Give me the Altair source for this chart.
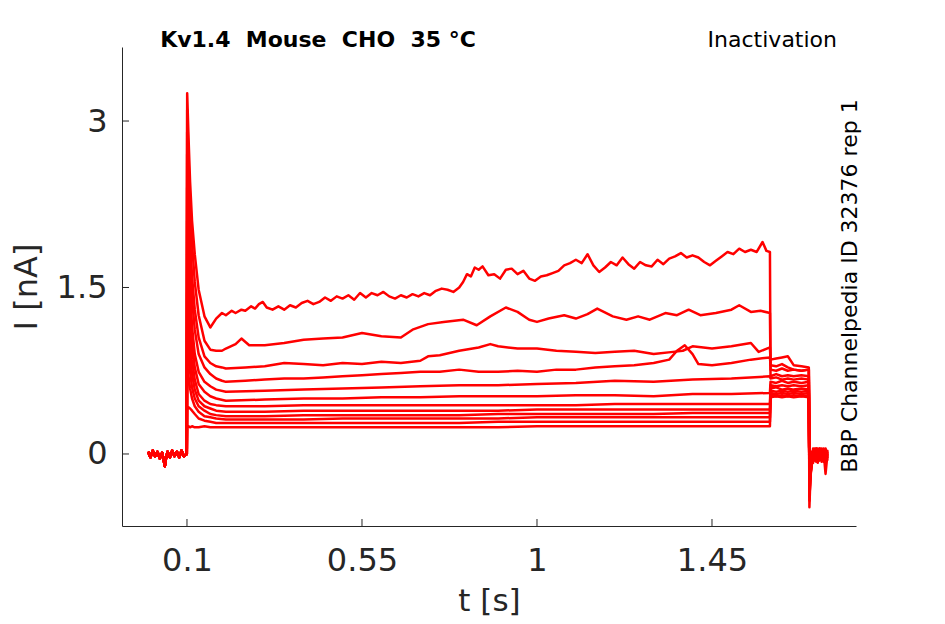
import altair as alt
import pandas as pd

# ---------------- data ----------------
TRACES = list(range(1, 13))

# holding baseline before the step (shared by all sweeps)
BASE_T = [0.0, 0.006, 0.012, 0.018, 0.024, 0.03, 0.036, 0.04, 0.043, 0.046, 0.05,
          0.056, 0.062, 0.068, 0.074, 0.08, 0.086, 0.092, 0.0995]
BASE_I = [0.02, -0.03, 0.03, -0.02, 0.02, -0.04, 0.01, -0.05, -0.11, -0.04, 0.02,
          -0.03, 0.03, -0.02, 0.02, -0.03, 0.03, -0.02, 0.0]

# fast transient after the step at 0.1 s
DECAY_T = [0.1005, 0.104, 0.108, 0.113, 0.12, 0.13, 0.145, 0.16, 0.175]
DECAY_I = {
    1: [3.25, 2.85, 2.45, 2.10, 1.80, 1.48, 1.24, 1.14, 1.22],
    2: [3.10, 2.65, 2.25, 1.90, 1.55, 1.25, 1.02, 0.94, 0.93],
    3: [2.90, 2.40, 1.95, 1.60, 1.30, 1.05, 0.88, 0.82, 0.79],
    4: [2.70, 2.20, 1.75, 1.40, 1.12, 0.90, 0.78, 0.72, 0.68],
    5: [2.40, 1.95, 1.50, 1.15, 0.90, 0.74, 0.65, 0.61, 0.58],
    6: [2.10, 1.70, 1.30, 1.00, 0.78, 0.63, 0.56, 0.52, 0.50],
    7: [1.80, 1.45, 1.10, 0.85, 0.67, 0.54, 0.48, 0.45, 0.44],
    8: [1.45, 1.15, 0.90, 0.72, 0.58, 0.48, 0.43, 0.41, 0.39],
    9: [1.10, 0.92, 0.74, 0.60, 0.50, 0.43, 0.39, 0.36, 0.35],
    10: [0.80, 0.70, 0.59, 0.50, 0.43, 0.38, 0.34, 0.33, 0.32],
    11: [0.40, 0.42, 0.41, 0.39, 0.36, 0.32, 0.30, 0.29, 0.28],
    12: [0.24, 0.25, 0.24, 0.25, 0.24, 0.24, 0.25, 0.24, 0.24],
}

# sustained current during the 1.5 s step (top sweeps read in detail)
T1_T = [0.19, 0.2, 0.215, 0.225, 0.24, 0.25, 0.265, 0.275, 0.285, 0.295, 0.305, 0.32,
        0.335, 0.35, 0.365, 0.38, 0.395, 0.41, 0.425, 0.44, 0.455, 0.47, 0.485, 0.5,
        0.515, 0.53, 0.545, 0.56, 0.575, 0.59, 0.605, 0.62, 0.635, 0.65, 0.665, 0.68,
        0.695, 0.71, 0.725, 0.74, 0.755, 0.77, 0.785, 0.8, 0.81, 0.82, 0.83, 0.84,
        0.85, 0.86, 0.875, 0.89, 0.905, 0.92, 0.935, 0.95, 0.965, 0.98, 0.995, 1.01,
        1.025, 1.04, 1.055, 1.07, 1.085, 1.1, 1.115, 1.13, 1.145, 1.16, 1.175, 1.19,
        1.205, 1.22, 1.235, 1.25, 1.265, 1.28, 1.295, 1.31, 1.325, 1.34, 1.355, 1.37,
        1.385, 1.4, 1.415, 1.43, 1.445, 1.46, 1.475, 1.49, 1.505, 1.52, 1.535, 1.55,
        1.565, 1.58, 1.59, 1.599]
T1_I = [1.27, 1.25, 1.29, 1.27, 1.30, 1.29, 1.33, 1.31, 1.35, 1.37, 1.32, 1.30,
        1.33, 1.30, 1.34, 1.32, 1.36, 1.38, 1.35, 1.37, 1.41, 1.38, 1.42, 1.40,
        1.43, 1.39, 1.45, 1.41, 1.45, 1.43, 1.46, 1.42, 1.40, 1.43, 1.41, 1.44,
        1.42, 1.45, 1.43, 1.47, 1.49, 1.48, 1.46, 1.50, 1.55, 1.62, 1.60, 1.68,
        1.66, 1.69, 1.61, 1.62, 1.58, 1.66, 1.67, 1.62, 1.65, 1.58, 1.56, 1.60,
        1.61, 1.63, 1.65, 1.70, 1.72, 1.75, 1.72, 1.80, 1.70, 1.64, 1.68, 1.73,
        1.70, 1.77, 1.71, 1.67, 1.73, 1.70, 1.69, 1.75, 1.71, 1.76, 1.78, 1.81,
        1.77, 1.79, 1.77, 1.73, 1.70, 1.74, 1.78, 1.82, 1.80, 1.85, 1.82, 1.84,
        1.82, 1.91, 1.83, 1.82]

T2_T = [0.19, 0.2, 0.225, 0.24, 0.26, 0.3, 0.35, 0.4, 0.45, 0.5, 0.55, 0.6, 0.65,
        0.68, 0.72, 0.76, 0.81, 0.845, 0.88, 0.92, 0.95, 0.98, 1.0, 1.03, 1.07, 1.1,
        1.13, 1.155, 1.195, 1.23, 1.26, 1.29, 1.33, 1.36, 1.39, 1.42, 1.46, 1.5,
        1.52, 1.55, 1.575, 1.599]
T2_I = [0.93, 0.95, 0.99, 1.04, 0.98, 0.98, 1.00, 1.03, 1.04, 1.05, 1.09, 1.06, 1.05,
        1.12, 1.17, 1.19, 1.21, 1.16, 1.24, 1.32, 1.28, 1.21, 1.19, 1.22, 1.25, 1.22,
        1.26, 1.31, 1.24, 1.21, 1.24, 1.21, 1.27, 1.25, 1.30, 1.25, 1.27, 1.30,
        1.34, 1.28, 1.29, 1.27]

T3_T = [0.19, 0.2, 0.25, 0.3, 0.35, 0.4, 0.45, 0.5, 0.55, 0.6, 0.65, 0.7, 0.72, 0.75,
        0.8, 0.85, 0.88, 0.9, 0.95, 1.0, 1.05, 1.1, 1.15, 1.2, 1.25, 1.3, 1.35, 1.375,
        1.4, 1.45, 1.5, 1.55, 1.57, 1.599]
T3_I = [0.78, 0.77, 0.78, 0.79, 0.82, 0.81, 0.80, 0.82, 0.81, 0.83, 0.82, 0.84, 0.88, 0.89,
        0.93, 0.96, 0.99, 0.97, 0.95, 0.95, 0.93, 0.92, 0.91, 0.92, 0.93, 0.90, 0.92, 0.93,
        0.97, 0.95, 0.97, 1.00, 0.92, 0.96]

T4_T = [0.19, 0.2, 0.25, 0.3, 0.35, 0.4, 0.45, 0.5, 0.55, 0.6, 0.65, 0.7, 0.75, 0.8,
        0.85, 0.9, 0.95, 1.0, 1.05, 1.1, 1.15, 1.2, 1.25, 1.3, 1.34, 1.36, 1.38, 1.4,
        1.415, 1.45, 1.5, 1.55, 1.599]
T4_I = [0.66, 0.65, 0.66, 0.67, 0.68, 0.68, 0.69, 0.70, 0.71, 0.72, 0.73, 0.74, 0.74, 0.76,
        0.74, 0.74, 0.75, 0.74, 0.76, 0.76, 0.78, 0.79, 0.80, 0.82, 0.85, 0.93, 0.98, 0.90,
        0.81, 0.80, 0.82, 0.85, 0.87]

# lower sweeps on a common time grid
GRID_T = [0.2, 0.3, 0.4, 0.5, 0.6, 0.7, 0.8, 0.9, 1.0, 1.1, 1.2, 1.3, 1.4, 1.5, 1.599]
GRID_I = {
    5: [0.56, 0.57, 0.58, 0.59, 0.60, 0.61, 0.62, 0.62, 0.63, 0.64, 0.66, 0.65, 0.67, 0.68, 0.70],
    6: [0.48, 0.49, 0.50, 0.50, 0.51, 0.51, 0.52, 0.52, 0.52, 0.53, 0.53, 0.52, 0.54, 0.54, 0.55],
    7: [0.43, 0.43, 0.44, 0.44, 0.44, 0.44, 0.44, 0.44, 0.44, 0.44, 0.45, 0.45, 0.45, 0.45, 0.45],
    8: [0.38, 0.38, 0.39, 0.39, 0.39, 0.39, 0.39, 0.39, 0.40, 0.40, 0.40, 0.40, 0.40, 0.40, 0.40],
    9: [0.34, 0.34, 0.35, 0.35, 0.35, 0.35, 0.35, 0.36, 0.36, 0.36, 0.36, 0.36, 0.37, 0.37, 0.37],
    10: [0.31, 0.31, 0.31, 0.32, 0.32, 0.32, 0.32, 0.32, 0.33, 0.33, 0.33, 0.33, 0.33, 0.33, 0.33],
    11: [0.28, 0.28, 0.28, 0.28, 0.28, 0.28, 0.28, 0.29, 0.29, 0.29, 0.29, 0.29, 0.29, 0.29, 0.29],
    12: [0.24, 0.24, 0.24, 0.24, 0.24, 0.24, 0.24, 0.24, 0.25, 0.25, 0.25, 0.25, 0.25, 0.25, 0.25],
}

# test pulse 1.6 - 1.7 s
TAIL_T = [1.6005, 1.615, 1.63, 1.645, 1.66, 1.68, 1.699]
TAIL_I = {
    1: [0.70, 0.72, 0.70, 0.71, 0.70, 0.71, 0.70],
    2: [0.76, 0.75, 0.77, 0.75, 0.76, 0.75, 0.76],
    3: [0.85, 0.86, 0.87, 0.88, 0.80, 0.79, 0.78],
    4: [0.80, 0.79, 0.81, 0.78, 0.76, 0.75, 0.76],
    5: [0.68, 0.69, 0.67, 0.68, 0.67, 0.68, 0.67],
    6: [0.65, 0.64, 0.66, 0.64, 0.65, 0.64, 0.65],
    7: [0.62, 0.61, 0.62, 0.61, 0.62, 0.61, 0.62],
    8: [0.59, 0.60, 0.58, 0.59, 0.58, 0.59, 0.58],
    9: [0.57, 0.56, 0.57, 0.56, 0.57, 0.56, 0.57],
    10: [0.55, 0.54, 0.55, 0.54, 0.55, 0.54, 0.55],
    11: [0.53, 0.52, 0.53, 0.52, 0.53, 0.52, 0.53],
    12: [0.51, 0.52, 0.51, 0.52, 0.51, 0.52, 0.51],
}

# return to holding after 1.7 s
END_T = [1.7005, 1.703, 1.706, 1.71, 1.714, 1.718, 1.722, 1.727, 1.732, 1.737, 1.742, 1.747]
END_I = {
    1: [-0.48, -0.22, -0.08, 0.03, -0.06, 0.04, -0.03, 0.05, -0.05, 0.02, -0.18, 0.0],
    2: [-0.42, -0.18, -0.12, 0.01, -0.04, 0.05, -0.06, 0.02, -0.02, 0.04, -0.08, 0.01],
    3: [-0.38, -0.25, -0.05, -0.02, 0.04, -0.07, 0.02, -0.03, 0.05, -0.06, 0.03, -0.02],
    4: [-0.35, -0.20, -0.10, 0.05, -0.03, 0.02, -0.08, 0.04, -0.01, 0.05, -0.03, 0.02],
    5: [-0.30, -0.15, -0.02, -0.06, 0.03, -0.04, 0.05, -0.05, 0.02, -0.03, 0.04, -0.06],
    6: [-0.28, -0.19, -0.07, 0.02, -0.05, 0.03, -0.02, 0.05, -0.07, 0.01, -0.05, 0.03],
    7: [-0.25, -0.12, -0.04, -0.08, 0.02, -0.02, 0.04, -0.06, 0.03, -0.04, 0.02, -0.03],
    8: [-0.22, -0.14, 0.00, -0.03, 0.05, -0.05, 0.01, -0.02, 0.04, -0.07, 0.03, -0.01],
    9: [-0.20, -0.10, -0.06, 0.03, -0.02, 0.04, -0.05, 0.03, -0.04, 0.02, -0.02, 0.04],
    10: [-0.18, -0.08, -0.03, -0.05, 0.01, -0.03, 0.03, -0.01, 0.02, -0.05, 0.05, -0.04],
    11: [-0.15, -0.10, 0.02, -0.04, -0.01, 0.02, -0.06, 0.04, -0.03, 0.01, -0.03, 0.02],
    12: [-0.12, -0.06, -0.02, 0.01, -0.03, 0.05, -0.02, 0.00, -0.05, 0.03, -0.01, -0.04],
}

X_TICKS = [0.1, 0.55, 1.0, 1.45]
Y_TICKS = [0.0, 1.5, 3.0]
X_DOMAIN = [-0.0671, 1.8203]
Y_DOMAIN = [-0.649, 3.667]

NB = "\u00a0"
TITLE_LEFT = "Kv1.4" + NB + " Mouse" + NB + " CHO" + NB + " 35 °C"
TITLE_RIGHT = "Inactivation"
SIDE_TEXT = "BBP Channelpedia ID 32376 rep 1"

# ---------------- build table ----------------
PLATEAU = {1: (T1_T, T1_I), 2: (T2_T, T2_I), 3: (T3_T, T3_I), 4: (T4_T, T4_I)}
for k in GRID_I:
    PLATEAU[k] = (GRID_T, GRID_I[k])

rows = []
for k in TRACES:
    ts = list(BASE_T) + list(DECAY_T) + list(PLATEAU[k][0]) + list(TAIL_T) + list(END_T)
    vs = list(BASE_I) + list(DECAY_I[k]) + list(PLATEAU[k][1]) + list(TAIL_I[k]) + list(END_I[k])
    for j, (t, v) in enumerate(zip(ts, vs)):
        rows.append({"trace": k, "order": j, "t": t, "I": v})
df = pd.DataFrame(rows)

FONT = "DejaVu Sans"
AX = "#262626"

xscale = alt.Scale(domain=X_DOMAIN, nice=False, zero=False)
yscale = alt.Scale(domain=Y_DOMAIN, nice=False, zero=False)
xaxis = alt.Axis(values=X_TICKS, labelExpr="format(datum.value, '.3~f')",
                 title="t [s]", labelPadding=19, titlePadding=10, titleFontSize=31)
yaxis = alt.Axis(values=Y_TICKS, labelExpr="format(datum.value, '.3~f')",
                 title="I [nA]", labelPadding=15, titlePadding=13)

lines = alt.Chart(df).mark_line(color="#ff0000", strokeWidth=2.5, strokeJoin="round").encode(
    x=alt.X("t:Q", scale=xscale, axis=xaxis),
    y=alt.Y("I:Q", scale=yscale, axis=yaxis),
    detail="trace:N",
    order="order:Q",
)

xt = alt.Chart(pd.DataFrame({"t": X_TICKS})).mark_rule(color=AX, strokeWidth=1).encode(
    x=alt.X("t:Q", scale=xscale, axis=xaxis),
    y=alt.value(479), y2=alt.value(472),
)
yt = alt.Chart(pd.DataFrame({"I": Y_TICKS})).mark_rule(color=AX, strokeWidth=1).encode(
    y=alt.Y("I:Q", scale=yscale, axis=yaxis),
    x=alt.value(0), x2=alt.value(7),
)

t1 = alt.Chart(pd.DataFrame({"s": [TITLE_LEFT]})).mark_text(
    font=FONT, fontSize=22, fontWeight="bold", color="#000000", align="center",
    baseline="alphabetic").encode(text="s:N", x=alt.value(196), y=alt.value(0))
t2 = alt.Chart(pd.DataFrame({"s": [TITLE_RIGHT]})).mark_text(
    font=FONT, fontSize=22, color="#000000", align="right",
    baseline="alphabetic").encode(text="s:N", x=alt.value(715), y=alt.value(0))
t3 = alt.Chart(pd.DataFrame({"s": [SIDE_TEXT]})).mark_text(
    font=FONT, fontSize=22, color="#000000", align="center", angle=270,
    baseline="alphabetic").encode(text="s:N", x=alt.value(735), y=alt.value(239))

chart = alt.layer(lines, xt, yt, t1, t2, t3).properties(
    width=734, height=479,
    autosize=alt.AutoSizeParams(type="none"),
    padding={"left": 114, "top": 39, "right": 80, "bottom": 90},
).configure_view(stroke=None).configure_axis(
    grid=False, ticks=False, tickSize=0, domainColor=AX, domainWidth=1,
    labelFont=FONT, labelFontSize=32, labelColor=AX,
    titleFont=FONT, titleFontSize=32, titleColor=AX, titleFontWeight="normal",
)

chart.save("out.html", embed_options={"renderer": "svg", "actions": False})
